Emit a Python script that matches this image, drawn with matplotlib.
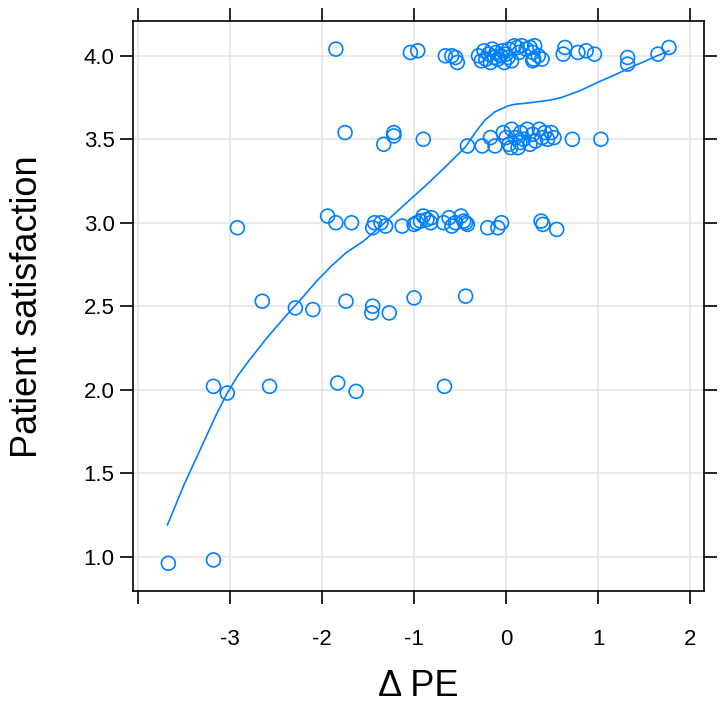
import matplotlib
matplotlib.use("Agg")
import matplotlib.pyplot as plt

plt.rcParams["font.family"] = ["Liberation Sans", "DejaVu Sans"]
plt.rcParams["axes.unicode_minus"] = False

# observed points: change in PE vs patient satisfaction (jittered)
delta_pe = [
    # satisfaction ~4
    -1.85, -1.04, -0.96, -0.66, -0.59, -0.55, -0.53,
    -0.30, -0.27, -0.24, -0.22, -0.19, -0.17, -0.15, -0.13, -0.11, -0.09,
    -0.06, -0.04, -0.02, 0.00, 0.02, 0.03, 0.06, 0.09, 0.12, 0.14, 0.17,
    0.22, 0.26, 0.29, 0.31, 0.30, 0.35, 0.39, 0.29,
    0.64, 0.62, 0.78, 0.87, 0.96, 1.32, 1.32, 1.65, 1.77,
    # satisfaction ~3.5
    -1.75, -1.33, -1.22, -1.22, -0.90, -0.42, -0.26, -0.17, -0.12,
    -0.03, 0.00, 0.03, 0.06, 0.10, 0.13, 0.16, 0.19, 0.23, 0.26, 0.29,
    0.32, 0.36, 0.39, 0.42, 0.45, 0.49, 0.52, 0.05, 0.15, 0.72, 1.03,
    # satisfaction ~3
    -2.92, -1.94, -1.85, -1.68, -1.43, -1.45, -1.36, -1.31, -1.13, -1.00,
    -0.97, -0.90, -0.93, -0.86, -0.81, -0.82, -0.68, -0.62, -0.59, -0.55,
    -0.49, -0.46, -0.44, -0.42, -0.20, -0.09, -0.05, 0.38, 0.40, 0.55,
    # satisfaction ~2.5
    -2.65, -2.29, -2.10, -1.74, -1.45, -1.46, -1.27, -1.00, -0.44,
    # satisfaction ~2
    -3.18, -3.03, -2.57, -1.83, -1.63, -0.67,
    # satisfaction ~1
    -3.67, -3.18,
]
satisfaction = [
    4.04, 4.02, 4.03, 4.00, 4.00, 3.99, 3.96,
    4.00, 3.97, 4.03, 3.98, 4.01, 3.96, 4.04, 3.99, 4.02, 3.98,
    4.00, 4.03, 3.96, 4.01, 3.99, 4.04, 3.97, 4.06, 4.05, 4.02, 4.06,
    4.04, 4.05, 4.02, 4.06, 3.98, 4.00, 3.98, 3.97,
    4.05, 4.01, 4.02, 4.03, 4.01, 3.99, 3.95, 4.01, 4.05,
    3.54, 3.47, 3.54, 3.52, 3.50, 3.46, 3.46, 3.51, 3.46,
    3.54, 3.51, 3.47, 3.56, 3.51, 3.45, 3.54, 3.50, 3.56, 3.47, 3.53,
    3.49, 3.56, 3.51, 3.54, 3.50, 3.54, 3.51, 3.45, 3.48, 3.50, 3.50,
    2.97, 3.04, 3.00, 3.00, 3.00, 2.97, 3.00, 2.98, 2.98, 2.99,
    3.00, 3.04, 3.01, 3.02, 3.03, 3.00, 3.00, 3.03, 2.98, 3.00,
    3.04, 3.01, 3.00, 2.99, 2.97, 2.97, 3.00, 3.01, 2.99, 2.96,
    2.53, 2.49, 2.48, 2.53, 2.50, 2.46, 2.46, 2.55, 2.56,
    2.02, 1.98, 2.02, 2.04, 1.99, 2.02,
    0.96, 0.98,
]

# loess smooth
smooth_x = [-3.68, -3.50, -3.30, -3.15, -3.03, -2.92, -2.80, -2.60, -2.38,
            -2.20, -2.06, -1.90, -1.74, -1.55, -1.38, -1.20, -1.02, -0.84,
            -0.65, -0.44, -0.33, -0.23, -0.12, 0.02, 0.10, 0.20, 0.35,
            0.48, 0.60, 0.80, 0.99, 1.20, 1.35, 1.50, 1.64, 1.77]
smooth_y = [1.19, 1.43, 1.67, 1.85, 1.98, 2.08, 2.17, 2.31, 2.45,
            2.56, 2.65, 2.74, 2.82, 2.89, 2.97, 3.06, 3.15, 3.24,
            3.34, 3.455, 3.545, 3.615, 3.665, 3.70, 3.71, 3.715, 3.725,
            3.735, 3.75, 3.79, 3.84, 3.89, 3.93, 3.965, 4.00, 4.03]

x_ticks = [-4, -3, -2, -1, 0, 1, 2]
x_tick_labels = ["", "-3", "-2", "-1", "0", "1", "2"]
y_ticks = [1.0, 1.5, 2.0, 2.5, 3.0, 3.5, 4.0]
y_tick_labels = ["1.0", "1.5", "2.0", "2.5", "3.0", "3.5", "4.0"]

blue = "#0080ff"

fig = plt.figure(figsize=(7.25, 7.08), dpi=100)
ax = fig.add_axes([0.184, 0.165, 0.787, 0.805])

ax.grid(True, color="#e6e6e6", linewidth=1.2)
ax.set_axisbelow(True)

ax.scatter(delta_pe, satisfaction, s=100, facecolors="none",
           edgecolors=blue, linewidths=1.2, zorder=3)
ax.plot(smooth_x, smooth_y, color=blue, linewidth=1.2, zorder=3)

ax.set_xlim(-4.05, 2.15)
ax.set_ylim(0.793, 4.207)
ax.set_xticks(x_ticks)
ax.set_xticklabels(x_tick_labels)
ax.set_yticks(y_ticks)
ax.set_yticklabels(y_tick_labels)

ax.tick_params(direction="out", length=9.5, width=1.2, labelsize=16,
               top=True, right=True)
ax.tick_params(axis="x", pad=17.5)
ax.tick_params(axis="y", pad=4)
for spine in ax.spines.values():
    spine.set_linewidth(1.2)

ax.set_xlabel("\u0394 PE", fontsize=26, labelpad=14)
ax.set_ylabel("Patient satisfaction", fontsize=26, labelpad=28)

fig.savefig("out.png", dpi=100)
